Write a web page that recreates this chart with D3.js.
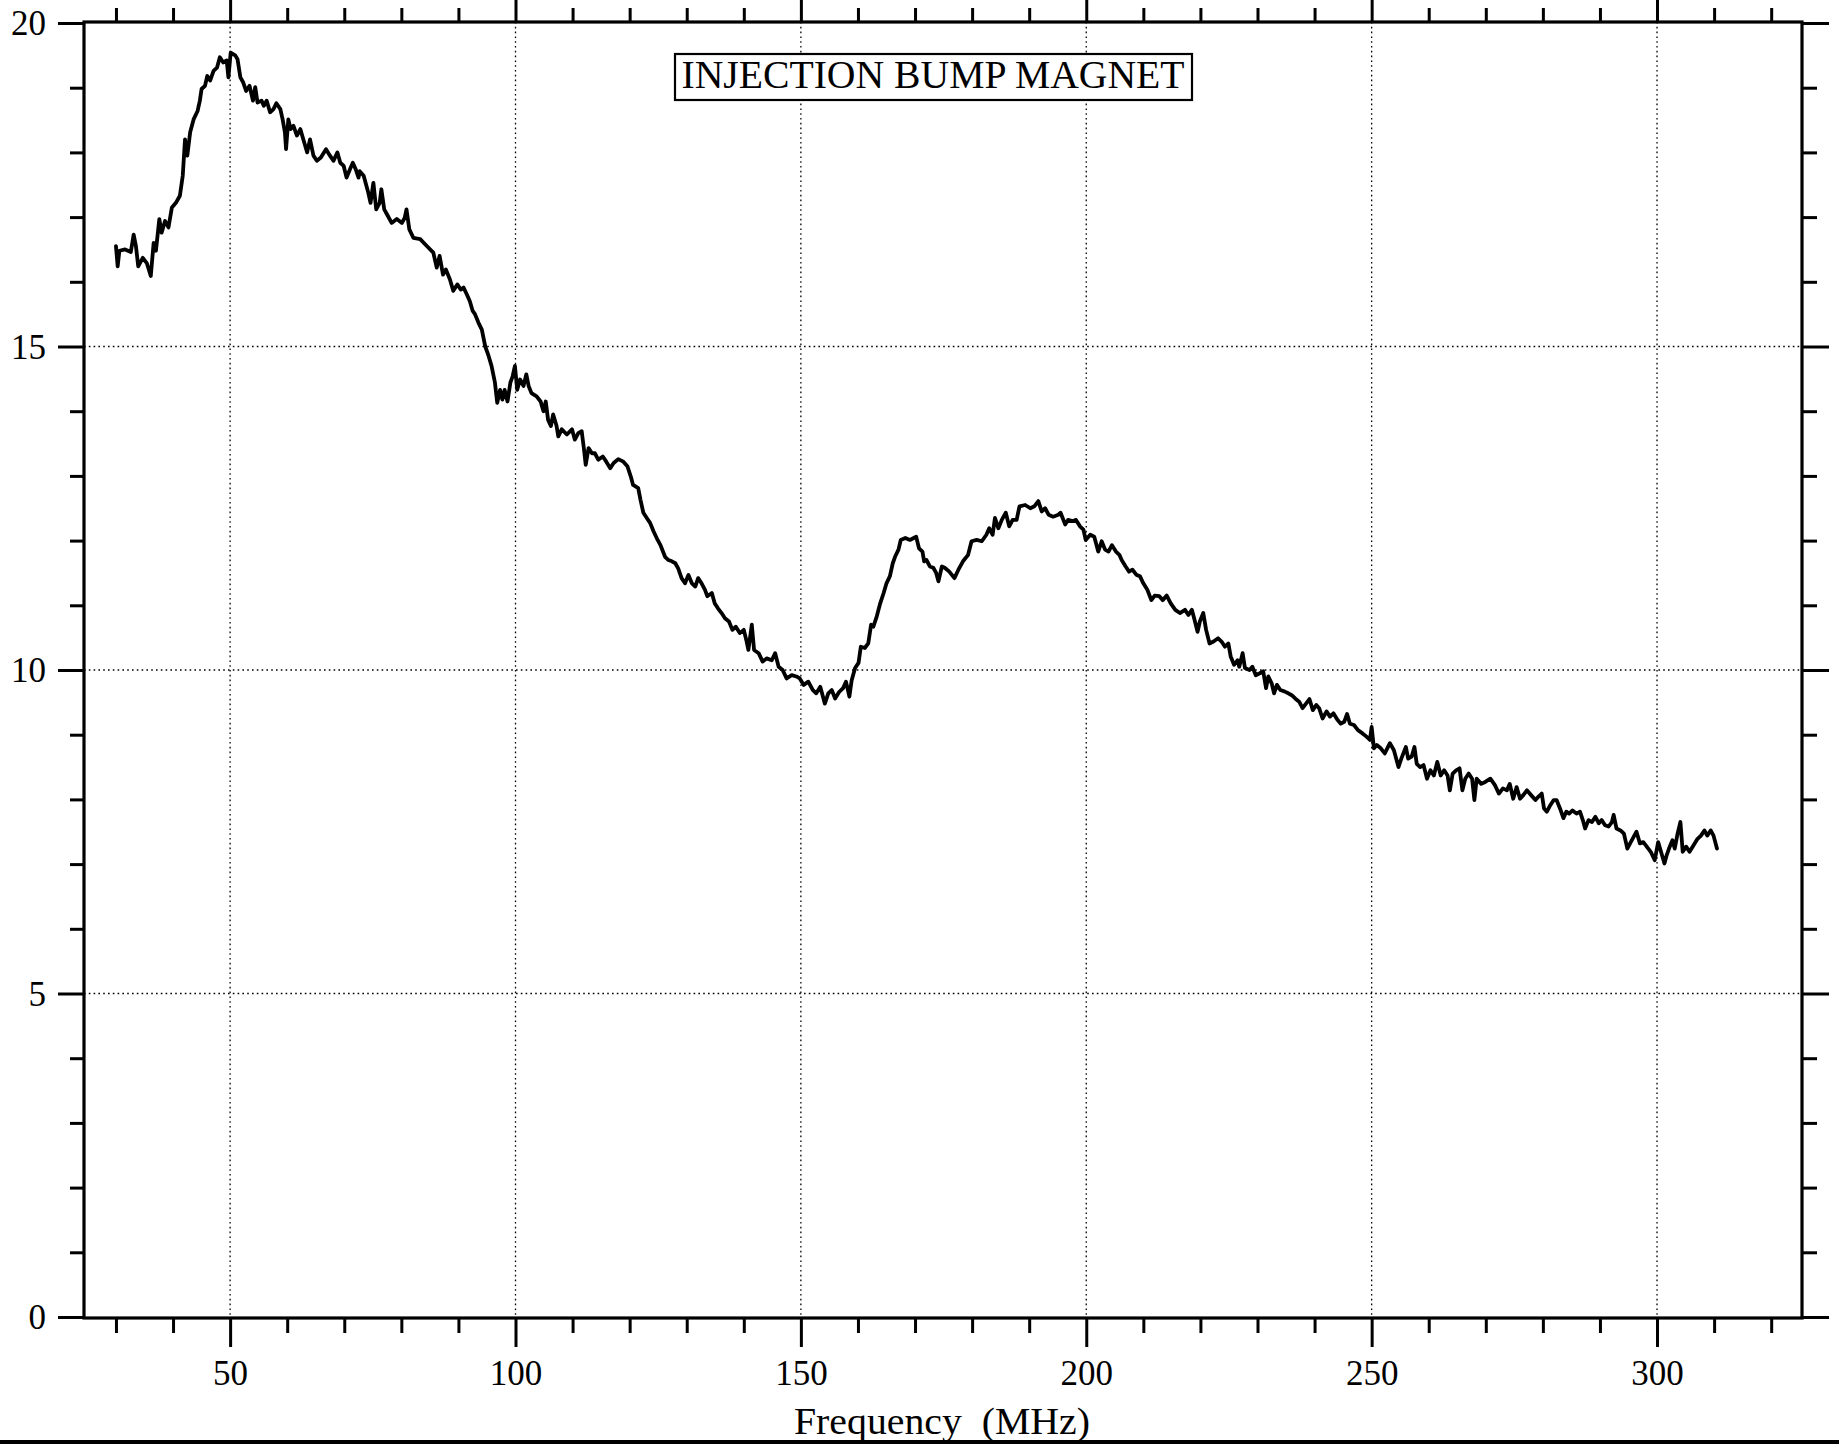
<!DOCTYPE html>
<html>
<head>
<meta charset="utf-8">
<script src="https://cdn.jsdelivr.net/npm/d3@7"></script>
<style>
  html, body { margin: 0; padding: 0; background: #fff; }
  svg { display: block; }
  text { font-family: "Liberation Serif", "Times New Roman", serif; fill: #000; white-space: pre; }
</style>
</head>
<body>
<svg id="chart" width="1839" height="1445"></svg>
<script>
// ---- data: [frequency MHz, value] ----
const riseSegment = [[30.0,16.55],[30.3,16.24],[30.6,16.48],[31.6,16.50],[32.6,16.46],[33.1,16.73],[33.5,16.55],[33.9,16.24],[34.7,16.37],[35.4,16.29],[36.1,16.09],[36.6,16.60],[37.0,16.48],[37.6,16.97],[38.0,16.76],[38.6,16.94],[39.2,16.84],[39.8,17.15],[40.5,17.22],[41.2,17.33],[41.7,17.64],[42.1,18.20],[42.5,17.95],[43.0,18.31],[43.6,18.51],[44.3,18.64],[44.7,18.80],[45.0,18.98],[45.6,19.03],[46.0,19.18],[46.5,19.11],[47.1,19.26],[47.7,19.31],[48.2,19.47],[48.8,19.39],[49.4,19.42],[49.7,19.16],[50.1,19.54],[50.9,19.50],[51.3,19.44],[51.8,19.16],[52.3,19.08],[52.8,18.95],[53.4,19.03],[54.0,18.80],[54.4,19.01],[54.8,18.77],[55.5,18.80],[55.9,18.72],[56.4,18.80],[57.0,18.62],[57.6,18.67],[58.1,18.76],[58.8,18.67],[59.2,18.51],[59.6,18.31],[59.8,18.05],[60.2,18.51],[60.6,18.36],[61.1,18.41],[61.7,18.26],[62.3,18.36],[63.0,18.15],[63.5,18.00],[64.0,18.20],[64.6,17.95],[65.2,17.87],[65.9,17.92],[66.8,18.05],[67.5,17.95],[68.1,17.87],[68.8,18.00],[69.3,17.84],[69.9,17.79],[70.4,17.61],[71.0,17.74],[71.5,17.84],[72.0,17.74],[72.5,17.61],[72.7,17.71],[73.4,17.64],[74.2,17.38],[74.6,17.22],[75.1,17.53],[75.6,17.12],[76.2,17.22],[76.5,17.43],[77.0,17.12],[77.5,17.04],[78.3,16.91],[79.2,16.97],[80.1,16.91],[80.6,16.99],[80.9,17.12],[81.4,16.81],[82.1,16.68]];

const fallSegment = [[83.3,16.66],[84.5,16.55],[85.6,16.45],[86.2,16.22],[86.7,16.40],[87.3,16.11],[87.8,16.19],[88.5,16.04],[89.1,15.86],[89.8,15.96],[90.4,15.88],[90.9,15.91],[91.5,15.80],[92.0,15.70],[92.5,15.55],[92.9,15.50],[93.5,15.37],[94.1,15.26],[94.7,15.00],[95.3,14.85],[95.8,14.70],[96.4,14.44],[96.8,14.13],[97.3,14.33],[97.7,14.18],[98.1,14.33],[98.6,14.15],[99.1,14.44],[99.5,14.54],[99.9,14.70],[100.3,14.33],[100.8,14.49],[101.4,14.39],[101.9,14.57],[102.3,14.39],[102.8,14.28],[103.7,14.23],[104.4,14.15],[104.9,14.00],[105.3,14.15],[105.7,13.87],[106.2,13.77],[106.6,13.95],[107.2,13.77],[107.5,13.61],[108.1,13.72],[109.0,13.64],[109.9,13.72],[110.4,13.56],[111.0,13.66],[111.6,13.69],[112.0,13.41],[112.3,13.17],[112.8,13.43],[113.4,13.35],[113.9,13.35],[114.5,13.25],[115.3,13.30],[115.9,13.22],[116.6,13.12],[117.2,13.20],[118.0,13.26],[118.9,13.22],[119.6,13.15],[120.2,12.99],[120.6,12.86],[121.5,12.81],[121.9,12.63],[122.4,12.43],[123.0,12.35],[123.6,12.27],[124.2,12.14],[124.9,12.01],[125.4,11.93],[126.2,11.75],[126.8,11.70],[127.4,11.68],[128.0,11.65],[128.5,11.57],[129.1,11.42],[129.7,11.34],[130.3,11.47],[130.9,11.34],[131.5,11.29],[132.0,11.42],[132.6,11.34],[133.2,11.24],[133.6,11.14],[134.4,11.19],[134.9,11.03],[135.5,10.95],[136.1,10.88],[136.7,10.80],[137.4,10.75],[138.0,10.62],[138.6,10.67]];

const bumpSegment = [[139.3,10.57],[140.0,10.62],[140.5,10.44],[140.8,10.31],[141.4,10.70],[141.8,10.31],[142.6,10.26],[143.3,10.13],[144.0,10.18],[144.9,10.15],[145.5,10.26],[146.1,10.05],[146.8,10.00],[147.5,9.87],[148.4,9.92],[149.2,9.90],[149.8,9.87],[150.5,9.77],[151.3,9.82],[152.1,9.69],[152.7,9.64],[153.4,9.74],[154.2,9.48],[154.8,9.64],[155.4,9.69],[156.0,9.56],[156.7,9.66],[157.4,9.72],[157.9,9.82],[158.5,9.59],[158.9,9.84],[159.5,10.03],[160.1,10.11],[160.5,10.36],[161.2,10.34],[161.8,10.41],[162.3,10.70],[162.7,10.67],[163.3,10.83],[163.9,11.03],[164.5,11.19],[165.0,11.34],[165.6,11.45],[166.1,11.65],[166.5,11.75],[167.1,11.86],[167.5,12.01],[168.3,12.04],[169.1,12.01],[170.2,12.06],[170.7,11.88],[171.3,11.83],[171.6,11.68],[172.0,11.70],[172.6,11.60],[173.2,11.58],[173.7,11.50],[174.1,11.37],[174.7,11.60],[175.2,11.58],[176.0,11.52],[176.9,11.42],[177.6,11.55],[178.4,11.68],[179.3,11.78],[179.9,11.99],[180.8,12.01],[181.7,11.99],[182.5,12.09],[183.0,12.19],[183.6,12.09],[184.0,12.35],[184.6,12.19],[185.2,12.32],[185.9,12.43],[186.5,12.22],[187.1,12.32],[187.8,12.32],[188.3,12.53],[189.3,12.55],[190.2,12.50],[190.9,12.53],[191.6,12.61],[192.2,12.45],[192.8,12.50],[193.4,12.40],[194.2,12.37],[195.1,12.40],[195.5,12.43],[196.3,12.25],[196.8,12.32],[197.6,12.30],[198.2,12.32],[198.9,12.22],[199.5,12.17],[199.9,12.01]];

const decaySegment = [[200.7,12.09],[201.4,12.06],[202.1,11.83],[202.7,11.99],[203.3,11.86],[203.9,11.83],[204.5,11.93],[205.2,11.83],[205.8,11.78],[206.2,11.70],[206.9,11.60],[207.5,11.52],[208.1,11.55],[208.8,11.47],[209.4,11.45],[210.0,11.34],[210.7,11.24],[211.4,11.08],[212.0,11.15],[212.8,11.14],[213.4,11.08],[214.1,11.15],[214.8,11.03],[215.6,10.93],[216.4,10.88],[217.3,10.93],[217.9,10.85],[218.5,10.93],[218.9,10.80],[219.5,10.59],[219.9,10.75],[220.5,10.88],[221.0,10.62],[221.6,10.41],[222.3,10.44],[223.1,10.49],[223.7,10.44],[224.3,10.36],[224.9,10.41],[225.3,10.21],[225.9,10.08],[226.5,10.15],[226.8,10.05],[227.4,10.26],[227.8,10.03],[228.6,10.00],[229.1,10.05],[229.7,9.92],[230.4,9.95],[231.0,9.98],[231.5,9.72],[231.9,9.90],[232.5,9.79],[232.9,9.64],[233.4,9.77],[234.0,9.69],[234.7,9.67],[235.4,9.64],[236.0,9.61],[236.6,9.56],[237.3,9.51],[237.9,9.41],[238.5,9.48],[239.1,9.55],[239.7,9.38],[240.3,9.46],[240.8,9.41],[241.4,9.25],[242.1,9.36],[242.7,9.28],[243.3,9.33],[244.0,9.23],[244.6,9.17],[245.2,9.20],[245.7,9.32],[246.2,9.17],[246.9,9.15],[247.6,9.07],[248.4,9.02],[249.1,8.97],[249.7,8.92],[250.0,9.12],[250.4,8.79],[250.9,8.84],[251.6,8.79],[252.3,8.71],[253.2,8.87],[253.9,8.76],[254.7,8.50],[255.2,8.63],[256.0,8.81],[256.4,8.63]];

const tailSegment = [[257.0,8.66],[257.5,8.81],[257.9,8.55],[258.5,8.50],[259.1,8.53],[259.7,8.32],[260.3,8.45],[260.9,8.37],[261.5,8.58],[262.1,8.37],[262.7,8.45],[263.3,8.37],[263.7,8.14],[264.2,8.40],[264.8,8.45],[265.4,8.48],[265.9,8.14],[266.4,8.32],[267.0,8.40],[267.6,8.32],[268.0,7.99],[268.4,8.32],[269.2,8.24],[269.9,8.27],[270.8,8.32],[271.6,8.22],[272.3,8.09],[273.0,8.17],[273.7,8.14],[274.2,8.24],[274.8,8.01],[275.4,8.19],[276.0,8.01],[276.6,8.07],[277.2,8.14],[277.9,8.07],[278.7,7.99],[279.2,8.04],[279.8,8.09],[280.2,7.86],[280.7,7.81],[281.3,7.91],[281.9,7.99],[282.4,7.99],[283.0,7.86],[283.6,7.71],[284.1,7.81],[284.6,7.78],[285.2,7.83],[285.9,7.78],[286.5,7.81],[287.0,7.68],[287.4,7.55],[288.0,7.68],[288.6,7.65],[289.2,7.73],[289.8,7.63],[290.3,7.68],[290.9,7.60],[291.5,7.58],[292.1,7.65],[292.4,7.76],[292.9,7.55],[293.6,7.52],[294.2,7.47],[294.8,7.24],[295.4,7.34],[295.9,7.42],[296.4,7.50],[297.0,7.32],[297.6,7.34],[298.2,7.27],[298.9,7.19],[299.6,7.06],[300.2,7.34],[300.7,7.19],[301.3,7.01],[301.7,7.14],[302.1,7.24],[302.7,7.37],[303.1,7.24],[303.6,7.47],[304.1,7.65],[304.5,7.19],[305.1,7.27],[305.7,7.19],[306.4,7.29],[307.1,7.39],[307.7,7.44],[308.3,7.52],[308.8,7.44],[309.4,7.52],[309.9,7.44],[310.5,7.24]];

const xMajorTicks = [50, 100, 150, 200, 250, 300];
const xMinorTicks = [30, 40, 60, 70, 80, 90, 110, 120, 130, 140, 160, 170, 180, 190, 210, 220, 230, 240, 260, 270, 280, 290, 310, 320];
const yMajorTicks = [0, 5, 10, 15, 20];
const yMinorTicks = [1, 2, 3, 4, 6, 7, 8, 9, 11, 12, 13, 14, 16, 17, 18, 19];
const titleText = "INJECTION BUMP MAGNET";
const xAxisTitle = "Frequency\u00A0\u00A0(MHz)";

// ---- layout ----
const svg = d3.select("#chart");
const L = 84, R = 1802, T = 22, B = 1318;
const x = d3.scaleLinear().domain([24.4, 325.4]).range([L, R]);
const y = d3.scaleLinear().domain([0, 20]).range([1317, 23]);

// grid (dotted)
const grid = svg.append("g").attr("stroke", "#000").attr("stroke-width", 1.3)
  .attr("stroke-dasharray", "1.6 3.2").attr("fill", "none");
grid.selectAll("line.v").data(xMajorTicks).join("line")
  .attr("x1", d => x(d)).attr("x2", d => x(d)).attr("y1", T).attr("y2", B);
grid.selectAll("line.h").data([5, 10, 15]).join("line")
  .attr("x1", L).attr("x2", R).attr("y1", d => y(d)).attr("y2", d => y(d));

// axes with ticks
function styleAxis(g) {
  g.select(".domain").remove();
  g.selectAll(".tick line").attr("stroke", "#000").attr("stroke-width", 3);
  g.selectAll(".tick text").remove();
}
// bottom
svg.append("g").attr("transform", `translate(0,${B})`)
  .call(d3.axisBottom(x).tickValues(xMinorTicks).tickSize(15)).call(styleAxis);
const bMaj = svg.append("g").attr("transform", `translate(0,${B})`)
  .call(d3.axisBottom(x).tickValues(xMajorTicks).tickSize(29).tickPadding(10));
bMaj.select(".domain").remove();
bMaj.selectAll(".tick line").attr("stroke", "#000").attr("stroke-width", 3);
bMaj.selectAll(".tick text").attr("y", 0).attr("dy", 0)
  .attr("transform", "translate(0,67)")
  .style("font-family", "'Liberation Serif', serif").style("font-size", "35px").attr("fill", "#000");

// top
svg.append("g").attr("transform", `translate(0,${T})`)
  .call(d3.axisTop(x).tickValues(xMinorTicks).tickSize(14)).call(styleAxis);
svg.append("g").attr("transform", `translate(0,${T})`)
  .call(d3.axisTop(x).tickValues(xMajorTicks).tickSize(24)).call(styleAxis);

// left
svg.append("g").attr("transform", `translate(${L},0)`)
  .call(d3.axisLeft(y).tickValues(yMinorTicks).tickSize(14)).call(styleAxis);
const lMaj = svg.append("g").attr("transform", `translate(${L},0)`)
  .call(d3.axisLeft(y).tickValues(yMajorTicks).tickSize(26).tickPadding(12));
lMaj.select(".domain").remove();
lMaj.selectAll(".tick line").attr("stroke", "#000").attr("stroke-width", 3);
lMaj.selectAll(".tick text").attr("dy", "0.34em")
  .style("font-family", "'Liberation Serif', serif").style("font-size", "35px").attr("fill", "#000");

// right
svg.append("g").attr("transform", `translate(${R},0)`)
  .call(d3.axisRight(y).tickValues(yMinorTicks).tickSize(15)).call(styleAxis);
svg.append("g").attr("transform", `translate(${R},0)`)
  .call(d3.axisRight(y).tickValues(yMajorTicks).tickSize(27)).call(styleAxis);

// frame
svg.append("rect").attr("x", L).attr("y", T).attr("width", R - L).attr("height", B - T)
  .attr("fill", "none").attr("stroke", "#000").attr("stroke-width", 3.2);

// data line
const allPoints = [].concat(riseSegment, fallSegment, bumpSegment, decaySegment, tailSegment);
const line = d3.line().x(d => x(d[0])).y(d => y(d[1]));
svg.append("path").datum(allPoints).attr("d", line)
  .attr("fill", "none").attr("stroke", "#000").attr("stroke-width", 3.8)
  .attr("stroke-linejoin", "round").attr("stroke-linecap", "round");

// title box
svg.append("rect").attr("x", 675).attr("y", 54).attr("width", 517).attr("height", 46)
  .attr("fill", "#fff").attr("stroke", "#000").attr("stroke-width", 2.2);
svg.append("text").attr("x", 933).attr("y", 88).attr("text-anchor", "middle")
  .attr("textLength", 503).attr("lengthAdjust", "spacingAndGlyphs")
  .style("font-size", "40px").text(titleText);

// x-axis title
svg.append("text").attr("x", 942).attr("y", 1434).attr("text-anchor", "middle")
  .attr("textLength", 296).attr("lengthAdjust", "spacingAndGlyphs")
  .style("font-size", "38px").text(xAxisTitle);

// page edge line at bottom
svg.append("line").attr("x1", 0).attr("x2", 1839).attr("y1", 1442).attr("y2", 1442)
  .attr("stroke", "#000").attr("stroke-width", 4);
</script>
</body>
</html>
